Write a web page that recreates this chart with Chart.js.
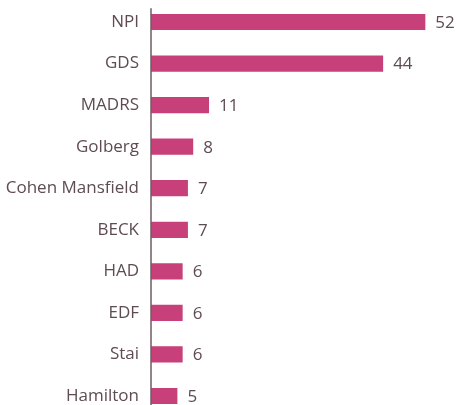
<!DOCTYPE html>
<html>
<head>
<meta charset="utf-8">
<script src="https://cdn.jsdelivr.net/npm/chart.js@4/dist/chart.umd.min.js"></script>
<style>
html,body{margin:0;padding:0;background:#fff;overflow:hidden;}
#wrap{position:relative;width:457px;height:460px;margin-top:-21px;}
</style>
</head>
<body>
<div id="wrap"><canvas id="c"></canvas></div>
<script>
const categories = ["NPI","GDS","MADRS","Golberg","Cohen Mansfield","BECK","HAD","EDF","Stai","Hamilton"];
const counts = [52,44,11,8,7,7,6,6,6,5];

const textColor = "#5e4b53";
const barColor = "#c8407a";
const fontFamily = "'Open Sans', sans-serif";
const fontSize = 17;

const valueLabels = {
  id: "valueLabels",
  afterDatasetsDraw(chart) {
    const ctx = chart.ctx;
    const meta = chart.getDatasetMeta(0);
    ctx.save();
    ctx.font = fontSize + "px " + fontFamily;
    ctx.fillStyle = textColor;
    ctx.textAlign = "left";
    ctx.textBaseline = "middle";
    meta.data.forEach((bar, i) => {
      ctx.fillText(String(counts[i]), bar.x + 10, bar.y + 1);
    });
    ctx.restore();
  }
};

const axisLine = {
  id: "axisLine",
  afterDatasetsDraw(chart) {
    const ctx = chart.ctx;
    const x = chart.scales.x.getPixelForValue(0);
    ctx.save();
    ctx.strokeStyle = "#6e5c63";
    ctx.lineWidth = 1.5;
    ctx.beginPath();
    ctx.moveTo(x, chart.chartArea.top + 7);
    ctx.lineTo(x, chart.chartArea.bottom);
    ctx.stroke();
    ctx.restore();
  }
};

new Chart(document.getElementById("c"), {
  type: "bar",
  data: {
    labels: categories,
    datasets: [{
      data: counts,
      backgroundColor: barColor,
      borderWidth: 0,
      categoryPercentage: 1,
      barPercentage: 0.39
    }]
  },
  options: {
    indexAxis: "y",
    responsive: true,
    maintainAspectRatio: false,
    animation: false,
    layout: { padding: 0 },
    plugins: { legend: { display: false }, tooltip: { enabled: false } },
    scales: {
      x: {
        min: 0, max: 58,
        display: false,
        grid: { display: false }
      },
      y: {
        afterFit(scale) { scale.width = 151; },
        grid: { display: false, drawTicks: false },
        border: { display: false },
        ticks: {
          padding: 12,
          color: textColor,
          font: { family: fontFamily, size: fontSize }
        }
      }
    }
  },
  plugins: [valueLabels, axisLine]
});
</script>
</body>
</html>
